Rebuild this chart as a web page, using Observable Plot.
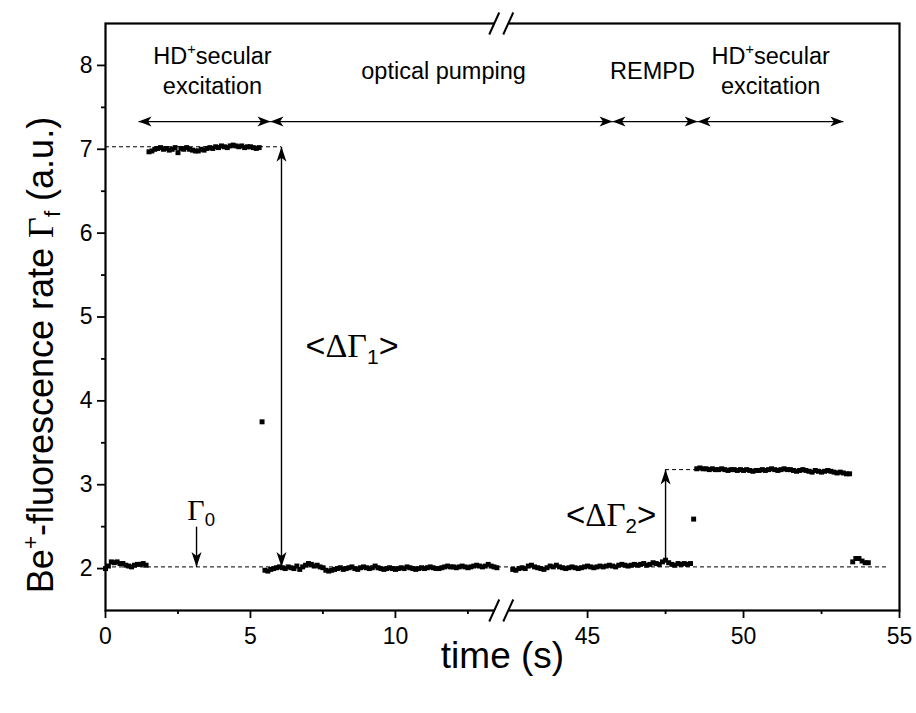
<!DOCTYPE html>
<html>
<head>
<meta charset="utf-8">
<script src="https://cdn.jsdelivr.net/npm/d3@7"></script>
<script src="https://cdn.jsdelivr.net/npm/@observablehq/plot@0.6"></script>
<style>
  html, body { margin: 0; padding: 0; background: #fff; }
</style>
</head>
<body>
<script>
// ---------- measured data (time in s, Be+ fluorescence in a.u.) ----------
const SAMPLE_DT = 0.1;

const lowA_start = 0.0;
const lowA = [2.00, 2.03, 2.08, 2.07, 2.08, 2.06, 2.06, 2.04, 2.03, 2.02, 2.04, 2.05, 2.05, 2.06, 2.04];

const highA_start = 1.5;
const highA = [6.97, 6.98, 7.00, 7.01, 7.02, 7.00, 7.01, 6.99, 7.00, 7.02,
               6.96, 7.01, 7.00, 7.02, 7.00, 6.99, 6.98, 6.98, 7.00, 6.99,
               7.01, 7.02, 7.01, 7.03, 7.02, 7.04, 7.03, 7.02, 7.04, 7.05,
               7.04, 7.03, 7.04, 7.02, 7.03, 7.03, 7.02, 7.01, 7.02];

const lowB_start = 5.5;
const lowB = [1.98, 1.97, 1.99, 2.00, 2.01, 2.02,
              2.01, 2.00, 2.02, 2.01, 2.00, 2.03, 1.99, 2.02, 2.04,
              2.06, 2.05, 2.03, 2.04, 2.02, 2.01, 1.98, 1.97, 1.98, 1.99,
              2.00, 2.01, 1.99, 2.00, 2.01, 2.02, 2.00, 1.99, 2.01, 2.02,
              2.01, 2.00, 2.01, 2.03, 2.01, 2.00, 1.99, 2.00, 2.01, 2.00,
              1.99, 2.00, 2.01, 2.00, 2.02, 2.01, 2.00, 1.99, 2.00, 2.01,
              2.00, 2.01, 2.02, 2.01, 2.00, 2.00, 2.01, 2.02, 2.03, 2.02,
              2.02, 2.01, 2.02, 2.03, 2.02, 2.01, 2.02, 2.03, 2.04, 2.03,
              2.02, 2.03, 2.05, 2.03, 2.02, 2.01];

const lowC_start = 42.6;
const lowC = [1.99, 1.98, 2.00, 2.01, 2.00, 2.03, 2.04, 2.02, 2.01,
              2.00, 1.99, 2.01, 2.03, 2.02, 2.04, 2.02, 2.01, 2.00, 2.01,
              2.02, 2.01, 2.00, 2.01, 2.02, 2.03, 2.02, 2.01, 2.02, 2.03,
              2.02, 2.03, 2.04, 2.03, 2.02, 2.04, 2.05, 2.04, 2.03, 2.04,
              2.05, 2.04, 2.05, 2.06, 2.04, 2.05, 2.07, 2.06, 2.05, 2.08,
              2.10, 2.07, 2.05, 2.04, 2.06, 2.05, 2.06, 2.05, 2.06];

const highB_start = 48.5;
const highB = [3.19, 3.20, 3.19, 3.19, 3.18, 3.19, 3.18, 3.18, 3.19, 3.18,
               3.17, 3.18, 3.18, 3.17, 3.18, 3.17, 3.18, 3.17, 3.16, 3.17,
               3.17, 3.18, 3.17, 3.18, 3.19, 3.18, 3.17, 3.18, 3.19, 3.18,
               3.18, 3.17, 3.16, 3.17, 3.18, 3.17, 3.16, 3.15, 3.17, 3.16,
               3.15, 3.16, 3.17, 3.16, 3.15, 3.14, 3.15, 3.14, 3.13, 3.13];

const lowD_start = 53.5;
const lowD = [2.08, 2.12, 2.12, 2.09, 2.07, 2.07];

const spikeT = [5.4, 48.4];
const spikeY = [3.75, 2.59];

// ---------- axis ----------
// broken time axis: [0, 13.8] s and [42.5, 55] s (right part drawn slightly wider)
const breakDomain = [0, 13.8, 42.5, 55];
const breakUnits = [0, 13.8, 13.938, 27.386];
const xMajor = [0, 5, 10, 45, 50, 55];
const xMinor = [2.5, 7.5, 12.5, 47.5, 52.5];
const yDomain = [1.5, 8.5];
const yMajor = [2, 3, 4, 5, 6, 7, 8];
const yMinor = [2.5, 3.5, 4.5, 5.5, 6.5, 7.5];
const breakT = [13.65, 13.65];
const breakY = [8.5, 1.5];

// ---------- annotations ----------
const dashX1 = [0, 0, 47.5];
const dashX2 = [6.07, 54.6, 48.5];
const dashY = [7.03, 2.02, 3.18];

const vLineT = [6.07, 3.14, 47.5];
const vLineFrom = [7.03, 2.5, 2.08];
const vLineTo = [2.02, 2.02, 3.18];
const vHeadT = [6.07, 6.07, 3.14, 47.5];
const vHeadY = [7.03, 2.02, 2.02, 3.18];
const vHeadRot = [0, 180, 180, 0];

const spanStart = [1.14, 5.69, 45.8, 48.53];
const spanEnd = [5.69, 45.8, 48.53, 53.2];
const spanY = 7.33;

const phaseText = ["HD^+secular", "excitation", "optical pumping", "REMPD", "HD^+secular", "excitation"];
const phaseT = [3.69, 3.69, 11.66, 47.08, 50.87, 50.87];
const phaseY = [8.11, 7.75, 7.93, 7.93, 8.11, 7.75];

const dG1Text = ["<ΔΓ_1>"]; const dG1T = [6.9];  const dG1Y = [4.65];
const g0Text = ["Γ_0"];     const g0T = [3.3];   const g0Y = [2.69];
const dG2Text = ["<ΔΓ_2>"]; const dG2T = [47.2]; const dG2Y = [2.63];

const xTitle = "time (s)";
const yTitle = "Be^+-fluorescence rate Γ_f (a.u.)";

// ---------- build tables ----------
const brk = d3.scaleLinear().domain(breakDomain).range(breakUnits);
function seg(start, vals) { return vals.map((v, i) => ({t: +(start + i * SAMPLE_DT).toFixed(2), y: v})); }
const points = [
  ...seg(lowA_start, lowA), ...seg(highA_start, highA), ...seg(lowB_start, lowB),
  ...seg(lowC_start, lowC), ...seg(highB_start, highB), ...seg(lowD_start, lowD),
  ...spikeT.map((t, i) => ({t, y: spikeY[i]}))
];
const dashes = dashY.map((y, i) => ({x1: dashX1[i], x2: dashX2[i], y}));
const vLines = vLineT.map((t, i) => ({t, y1: vLineFrom[i], y2: vLineTo[i]}));
const vHeads = vHeadT.map((t, i) => ({t, y: vHeadY[i], r: vHeadRot[i]}));
const spans = spanStart.map((s, i) => ({x1: s, x2: spanEnd[i]}));
const hHeads = [...spanStart.map(t => ({t, r: -90})), ...spanEnd.map(t => ({t, r: 90}))];
const phases = phaseText.map((s, i) => ({s, t: phaseT[i], y: phaseY[i]}));
const breaks = breakT.map((t, i) => ({t, y: breakY[i]}));
const xLabel = new Map(xMajor.map(t => [brk(t), String(t)]));
const T = f => d => brk(typeof f === "string" ? d[f] : f(d));

// ---------- custom symbols ----------
const headV = {draw(ctx) { ctx.moveTo(0, 0); ctx.lineTo(5, 15); ctx.lineTo(0, 11); ctx.lineTo(-5, 15); ctx.closePath(); }};
const headH = {draw(ctx) { ctx.moveTo(0, 0); ctx.lineTo(5, 13); ctx.lineTo(0, 9.5); ctx.lineTo(-5, 13); ctx.closePath(); }};
const breakErase = {draw(ctx) { ctx.moveTo(-7, -2.5); ctx.lineTo(7, -2.5); ctx.lineTo(7, 2.5); ctx.lineTo(-7, 2.5); ctx.closePath(); }};
const breakSlash = {draw(ctx) { ctx.moveTo(-12, 11); ctx.lineTo(-2, -11); ctx.moveTo(2, 11); ctx.lineTo(12, -11); }};

const chart = Plot.plot({
  width: 916, height: 713,
  marginLeft: 105, marginRight: 17, marginTop: 23, marginBottom: 103,
  x: {domain: [breakUnits[0], breakUnits[3]]},
  y: {domain: yDomain},
  style: {fontFamily: "'Liberation Sans', Arial, sans-serif", background: "#fff", color: "#000"},
  marks: [
    Plot.ruleY(dashes, {x1: T("x1"), x2: T("x2"), y: "y", stroke: "#000", strokeWidth: 1, strokeDasharray: "4,3"}),
    Plot.link(vLines, {x1: T("t"), x2: T("t"), y1: "y1", y2: "y2", stroke: "#000", strokeWidth: 1.4}),
    Plot.link(spans, {x1: T("x1"), x2: T("x2"), y1: () => spanY, y2: () => spanY, stroke: "#000", strokeWidth: 1.4}),
    Plot.dot(points, {x: T("t"), y: "y", symbol: "square", r: 2.8, fill: "#000"}),
    Plot.dot(vHeads, {x: T("t"), y: "y", rotate: "r", symbol: headV, fill: "#000", stroke: "none"}),
    Plot.dot(hHeads, {x: T("t"), y: () => spanY, rotate: "r", symbol: headH, fill: "#000", stroke: "none"}),
    Plot.text(phases, {x: T("t"), y: "y", text: "s", fontSize: 23.5, fill: "#000"}),
    Plot.text(dG1Text, {x: dG1T.map(brk), y: dG1Y, text: d => d, fontSize: 34, textAnchor: "start", fill: "#000"}),
    Plot.text(g0Text, {x: g0T.map(brk), y: g0Y, text: d => d, fontSize: 30, fill: "#000"}),
    Plot.text(dG2Text, {x: dG2T.map(brk), y: dG2Y, text: d => d, fontSize: 33, textAnchor: "end", fill: "#000"}),
    Plot.frame({stroke: "#000", strokeWidth: 2.2}),
    Plot.axisX({ticks: xMajor.map(brk), tickFormat: u => xLabel.get(u), tickSize: 8, tickPadding: 9, fontSize: 23, strokeWidth: 1.8, label: null}),
    Plot.axisX({ticks: xMinor.map(brk), tickFormat: () => "", tickSize: 4, strokeWidth: 1.8, label: null}),
    Plot.axisY({ticks: yMajor, tickFormat: d => String(d), tickSize: 8, tickPadding: 5, fontSize: 23, strokeWidth: 1.8, label: null}),
    Plot.axisY({ticks: yMinor, tickFormat: () => "", tickSize: 4, strokeWidth: 1.8, label: null}),
    Plot.dot(breaks, {x: T("t"), y: "y", symbol: breakErase, fill: "#fff", stroke: "none"}),
    Plot.dot(breaks, {x: T("t"), y: "y", symbol: breakSlash, fill: "none", stroke: "#000", strokeWidth: 2}),
    Plot.text([xTitle], {frameAnchor: "bottom", textAnchor: "middle", dy: 57, fontSize: 37, fill: "#000"}),
    Plot.text([yTitle], {frameAnchor: "left", textAnchor: "middle", rotate: -90, dx: -64, dy: 38, fontSize: 36, fill: "#000"})
  ]
});
document.body.appendChild(chart);

// ---------- rich text: ^x superscript, _x subscript, serif Greek ----------
(function richify(svg) {
  const ns = "http://www.w3.org/2000/svg";
  svg.querySelectorAll("text").forEach(t => {
    if (t.querySelector("tspan")) return;
    const s = t.textContent;
    if (!/[\^_ΓΔ]/.test(s)) return;
    const fs = parseFloat(getComputedStyle(t).fontSize) || 20;
    t.textContent = "";
    let offset = 0;
    s.split(/([\^_].|[ΓΔ])/).forEach(p => {
      if (!p) return;
      const ts = document.createElementNS(ns, "tspan");
      let target = 0;
      if (p[0] === "^" || p[0] === "_") {
        ts.textContent = p[1];
        ts.setAttribute("font-size", (fs * 0.62).toFixed(1));
        target = p[0] === "^" ? -fs * 0.42 : fs * 0.2;
      } else {
        ts.textContent = p;
        if (p === "Γ" || p === "Δ") ts.setAttribute("font-family", "'Liberation Serif', 'Times New Roman', serif");
      }
      if (target !== offset) { ts.setAttribute("dy", (target - offset).toFixed(1)); offset = target; }
      t.appendChild(ts);
    });
  });
})(chart);
</script>
</body>
</html>
